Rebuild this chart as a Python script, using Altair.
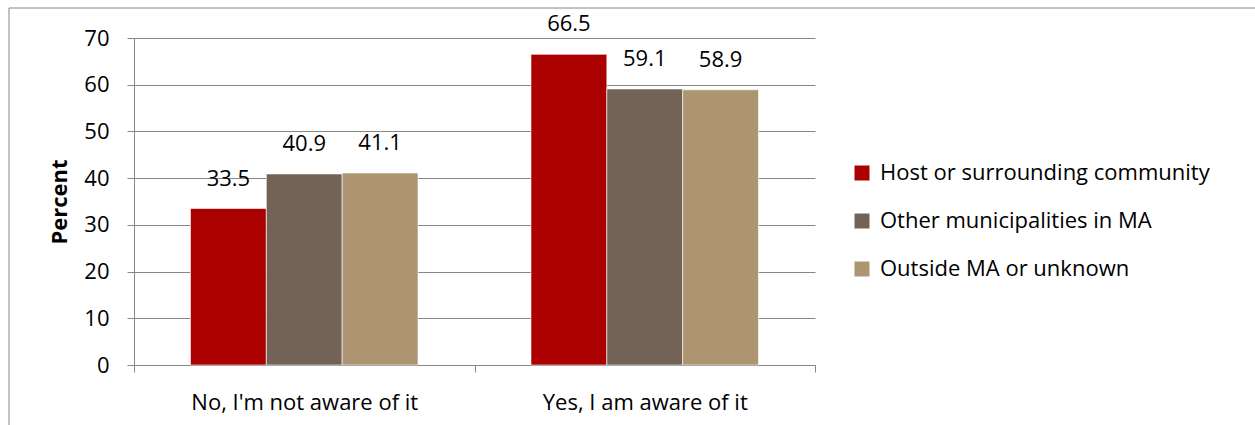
import altair as alt
import pandas as pd

categories = ["No, I'm not aware of it", "Yes, I am aware of it"]
groups = ["Host or surrounding community", "Other municipalities in MA", "Outside MA or unknown"]
host = [33.5, 66.5]
other = [40.9, 59.1]
outside = [41.1, 58.9]
colors = ["#AB0000", "#736357", "#AD9571"]

rows = []
for gi, (g, vals) in enumerate(zip(groups, [host, other, outside])):
    for c, v in zip(categories, vals):
        rows.append({"answer": c, "origin": g, "order": gi, "percent": v})
df = pd.DataFrame(rows)

FONT = "Open Sans"
FS = 22
W, H = 681, 327

base = alt.Chart(df).encode(
    x=alt.X("answer:N", sort=categories,
            scale=alt.Scale(paddingInner=0, paddingOuter=0),
            axis=alt.Axis(title=None, labelAngle=0, labelFontSize=FS, labelPadding=20,
                          labelColor="#000", tickBand="extent", tickSize=7,
                          labelLimit=400,
                          domainColor="#868686", tickColor="#868686", grid=False)),
    xOffset=alt.XOffset("origin:N", sort=groups,
                        scale=alt.Scale(paddingInner=0, paddingOuter=0.745)),
)

bars = base.mark_bar(stroke="white", strokeWidth=0.6).encode(
    y=alt.Y("percent:Q", scale=alt.Scale(domain=[0, 70], nice=False),
            axis=alt.Axis(title="Percent", titleFontSize=FS, titleFontWeight="bold",
                          titleColor="#000", titlePadding=12, values=list(range(0, 80, 10)),
                          labelFontSize=FS, labelColor="#000", labelPadding=18,
                          tickSize=7, tickColor="#868686", domainColor="#868686",
                          gridColor="#868686", gridWidth=1)),
    color=alt.Color("origin:N", sort=groups,
                    scale=alt.Scale(domain=groups, range=colors),
                    legend=alt.Legend(title=None, orient="none", legendX=717, legendY=124,
                                      symbolType="square", symbolSize=225,
                                      symbolStrokeWidth=0, labelFontSize=FS,
                                      labelColor="#000", rowPadding=26, labelOffset=7,
                                      labelLimit=400)),
)

labels = base.mark_text(baseline="middle", dy=-30, fontSize=FS, color="#000").encode(
    y="percent:Q",
    text=alt.Text("percent:Q", format=".1f"),
)

# outer frame lines (left and top)
frame_left = alt.Chart().mark_rule(color="#868686").encode(
    x=alt.value(-125), y=alt.value(-30), y2=alt.value(H + 80))
frame_top = alt.Chart().mark_rule(color="#868686").encode(
    x=alt.value(-125), x2=alt.value(W + 460), y=alt.value(-30))

chart = alt.layer(bars, labels, frame_left, frame_top).properties(
    width=W, height=H,
    padding={"left": 134, "top": 38, "right": 440, "bottom": 60},
    autosize=alt.AutoSizeParams(type="none"),
).configure(font=FONT).configure_view(stroke=None).configure_axis(labelFont=FONT, titleFont=FONT)

chart.save("out.html", embed_options={"renderer": "svg", "actions": False})
